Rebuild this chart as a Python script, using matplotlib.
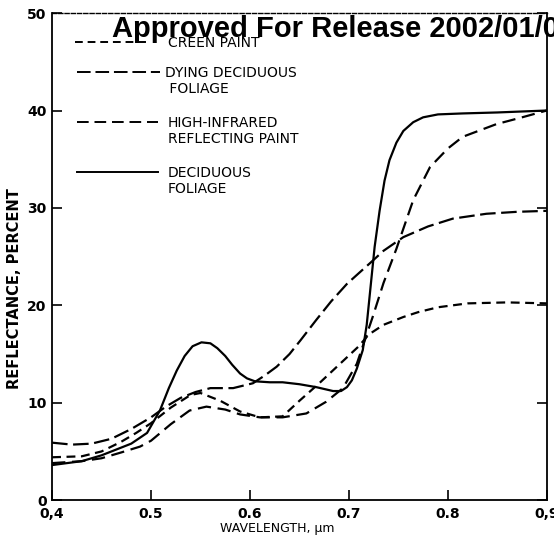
import matplotlib
matplotlib.use("Agg")
import matplotlib.pyplot as plt

# ---- data ----
decid_x = [0.40, 0.43, 0.45, 0.47, 0.48, 0.496, 0.509, 0.518, 0.526, 0.534, 0.542, 0.551, 0.560, 0.567, 0.575, 0.582,
           0.590, 0.597, 0.605, 0.62, 0.633, 0.65, 0.667, 0.684, 0.692, 0.698, 0.703, 0.708, 0.714, 0.718, 0.722,
           0.726, 0.731, 0.736, 0.741, 0.748, 0.755, 0.765, 0.775, 0.79, 0.815, 0.85, 0.90]
decid_y = [3.6, 4.0, 4.6, 5.4, 5.8, 6.9, 9.2, 11.5, 13.3, 14.8, 15.8, 16.2, 16.1, 15.6, 14.8, 13.9,
           13.0, 12.5, 12.2, 12.1, 12.1, 11.9, 11.6, 11.2, 11.2, 11.6, 12.3, 13.5, 15.4, 18.0, 22.0,
           26.0, 29.7, 32.8, 34.9, 36.7, 37.9, 38.8, 39.3, 39.6, 39.7, 39.8, 40.0]

dying_x = [0.40, 0.42, 0.44, 0.46, 0.48, 0.50, 0.515, 0.53, 0.545, 0.56, 0.583, 0.603, 0.615, 0.627, 0.64, 0.651,
           0.667, 0.682, 0.698, 0.71, 0.721, 0.735, 0.755, 0.78, 0.805, 0.839, 0.87, 0.90]
dying_y = [5.9, 5.7, 5.8, 6.3, 7.3, 8.5, 9.6, 10.5, 11.1, 11.5, 11.5, 12.0, 12.8, 13.7, 15.0, 16.4,
           18.5, 20.4, 22.2, 23.3, 24.3, 25.6, 27.0, 28.1, 28.9, 29.4, 29.6, 29.7]

hir_x = [0.40, 0.43, 0.45, 0.47, 0.489, 0.50, 0.52, 0.539, 0.556, 0.575, 0.59, 0.61, 0.633, 0.657, 0.677, 0.694,
         0.708, 0.716, 0.724, 0.735, 0.748, 0.765, 0.782, 0.80, 0.815, 0.849, 0.875, 0.90]
hir_y = [3.8, 4.0, 4.3, 4.9, 5.5, 6.1, 7.8, 9.2, 9.6, 9.3, 8.8, 8.5, 8.5, 8.9, 10.1, 11.5,
         14.0, 16.4, 18.8, 22.3, 25.8, 30.8, 34.2, 36.1, 37.3, 38.6, 39.3, 40.0]

green_x = [0.40, 0.43, 0.45, 0.47, 0.485, 0.50, 0.52, 0.54, 0.55, 0.57, 0.59, 0.61, 0.633, 0.65, 0.67, 0.69,
           0.71, 0.72, 0.735, 0.755, 0.77, 0.79, 0.82, 0.86, 0.90]
green_y = [4.4, 4.5, 5.0, 6.0, 6.9, 7.9, 9.5, 10.8, 11.0, 10.2, 9.1, 8.5, 8.6, 10.2, 12.0, 13.9,
           15.8, 17.0, 18.0, 18.8, 19.3, 19.8, 20.2, 20.3, 20.2]

xticks = [0.4, 0.5, 0.6, 0.7, 0.8, 0.9]
xtick_labels = ["0,4", "0.5", "0.6", "0.7", "0.8", "0,9"]
yticks = [0, 10, 20, 30, 40, 50]
legend_labels = ["CREEN PAINT", "DYING DECIDUOUS\n FOLIAGE", "HIGH-INFRARED\nREFLECTING PAINT", "DECIDUOUS\nFOLIAGE"]

# ---- figure ----
fig = plt.figure(figsize=(5.54, 5.46), dpi=100)
ax = fig.add_axes([0.094, 0.084, 0.893, 0.892])

lw = 1.6
st_green = dict(color="black", lw=lw, ls=(0, (4, 2.5)))
st_dying = dict(color="black", lw=lw, ls=(0, (7, 2.5)))
st_hir = dict(color="black", lw=lw, ls=(0, (6, 3)))
st_decid = dict(color="black", lw=lw, ls="-")

ax.plot(green_x, green_y, **st_green)
ax.plot(dying_x, dying_y, **st_dying)
ax.plot(hir_x, hir_y, **st_hir)
ax.plot(decid_x, decid_y, **st_decid)

ax.set_xlim(0.4, 0.9)
ax.set_ylim(0, 50)
ax.set_xticks(xticks)
ax.set_xticklabels(xtick_labels)
ax.set_yticks(yticks)

for s in ax.spines.values():
    s.set_linewidth(1.3)
ax.spines["top"].set_linestyle((0, (3, 1.5)))
ax.spines["top"].set_linewidth(1.0)

ax.tick_params(direction="in", length=7, width=1.2, right=True, top=False,
               labelsize=10, pad=4)
ax.tick_params(axis="x", pad=5)
for lab in ax.get_xticklabels() + ax.get_yticklabels():
    lab.set_fontweight("bold")

ax.set_xlabel("WAVELENGTH, \u03bcm", fontsize=9)
ax.xaxis.set_label_coords(0.455, -0.045)
ax.set_ylabel("REFLECTANCE, PERCENT", fontsize=10.5, fontweight="bold")
ax.yaxis.set_label_coords(-0.061, 0.435)

# legend drawn manually
def fx(px):
    return (px - 52) / 495.0

def fy(py):
    return (500 - py) / 487.0

leg = [
    (42, 75, 147, 168, st_green),
    (72, 77, 160, 165, st_dying),
    (122, 77, 158, 168, st_hir),
    (172, 77, 158, 168, st_decid),
]
for (py, x0, x1, tx, st), lab in zip(leg, legend_labels):
    ax.plot([fx(x0), fx(x1)], [fy(py), fy(py)], transform=ax.transAxes,
            clip_on=False, **{**st, "lw": 1.4})
    ax.text(fx(tx), fy(py - 6), lab, transform=ax.transAxes, fontsize=10,
            va="top", ha="left", linespacing=1.2)

fig.text(112 / 554, 1 - 37 / 546, "Approved For Release 2002/01/02",
         fontsize=21, fontweight="bold", family="Liberation Sans",
         ha="left", va="baseline")

fig.savefig("out.png", dpi=100)
